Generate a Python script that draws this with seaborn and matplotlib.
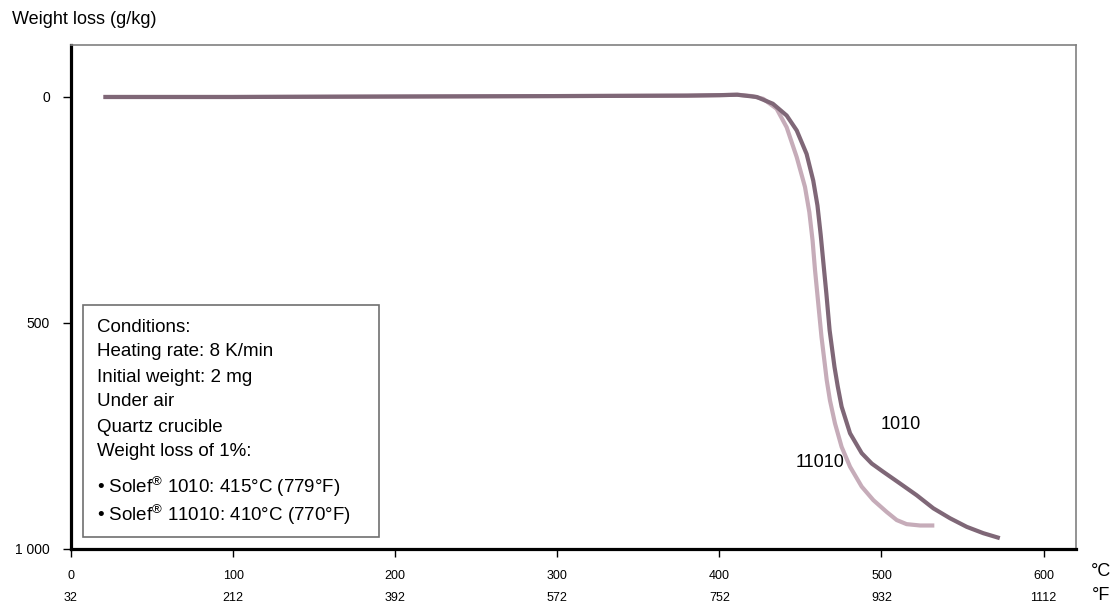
import matplotlib
matplotlib.use('Agg')
import matplotlib.pyplot as plt
import matplotlib.patches as patches
import matplotlib.transforms as mtransforms
import seaborn as sns
import pandas as pd

# Thermogravimetric curves (temperature in °C, weight loss in g/kg)
temp_1010 = [20, 100, 200, 300, 380, 400, 411, 423, 433, 441.5, 447.7, 453.8, 457.9, 460.5,
             462.5, 464, 466, 468, 471, 473, 475.4, 480.6, 487.8, 494, 501, 511.4, 521.7,
             532, 542.3, 552.6, 562.8, 573]
loss_1010 = [0, 0, -1, -2, -3, -4, -5, 0, 15, 41, 74, 126, 185, 240,
             305, 361, 435, 516, 597, 640, 685, 744, 788, 811, 829, 855, 881,
             910, 932, 951, 965, 976]

temp_11010 = [20, 100, 200, 300, 380, 400, 411, 420, 427, 435.3, 441.5, 447.7, 452.8, 455.5,
              457.5, 459, 461, 463, 465, 466.2, 468.2, 471.3, 475.4, 480.6, 487.8, 495,
              503.2, 509.4, 515.5, 523.8, 532.6]
loss_11010 = [0, 0, -1, -2, -3, -4, -5, -2, 4, 26, 67, 133, 199, 255,
              318, 383, 457, 531, 590, 626, 671, 722, 774, 818, 862, 892,
              918, 936, 945, 948, 948]

c_ticks = [0, 100, 200, 300, 400, 500, 600]
f_ticks = [32, 212, 392, 572, 752, 932, 1112]
y_ticks = [0, 500, 1000]
y_labels = ['0', '500', '1 000']

cond_lines = ['Conditions:', 'Heating rate: 8 K/min', 'Initial weight: 2 mg', 'Under air',
              'Quartz crucible', 'Weight loss of 1%:',
              '• Solef$^{\\mathrm{®}}$ 1010: 415°C (779°F)',
              '• Solef$^{\\mathrm{®}}$ 11010: 410°C (770°F)']

sns.set_style('white')
plt.rcParams['font.family'] = ['Liberation Sans', 'DejaVu Sans']
plt.rcParams['mathtext.fontset'] = 'custom'
plt.rcParams['mathtext.rm'] = 'Liberation Sans'
plt.rcParams['text.color'] = 'black'
plt.rcParams['xtick.color'] = 'black'
plt.rcParams['ytick.color'] = 'black'

W, H = 1120, 609
fig = plt.figure(figsize=(W / 100, H / 100), dpi=100)
ax = fig.add_axes([71 / W, 1 - 549 / H, (1076 - 71) / W, (549 - 45) / H])


def fx(px):
    return px / W


def fy(py):
    return 1 - py / H


dark = '#7f6777'
light = '#c6acb9'
df1 = pd.DataFrame({'T': temp_1010, 'loss': loss_1010})
df2 = pd.DataFrame({'T': temp_11010, 'loss': loss_11010})
sns.lineplot(data=df2, x='T', y='loss', color=light, lw=3, ax=ax, estimator=None,
             solid_joinstyle='round', solid_capstyle='butt')
sns.lineplot(data=df1, x='T', y='loss', color=dark, lw=3, ax=ax, estimator=None,
             solid_joinstyle='round', solid_capstyle='butt')

ax.set_xlim(0, 620)
ax.set_ylim(1000, -115)
ax.set_xlabel('')
ax.set_ylabel('')

ax.set_xticks(c_ticks)
ax.set_xticklabels([str(c) for c in c_ticks])
ax.set_yticks(y_ticks)
ax.set_yticklabels(y_labels)
ax.tick_params(axis='both', direction='out', length=6, width=1, color='black',
               bottom=True, left=True)
ax.tick_params(axis='x', labelsize=9, pad=9)
ax.tick_params(axis='y', labelsize=10, pad=9)

for s in ['left', 'bottom']:
    ax.spines[s].set_color('black')
    ax.spines[s].set_linewidth(2.3)
for s in ['top', 'right']:
    ax.spines[s].set_color('#808080')
    ax.spines[s].set_linewidth(1.2)

# °F row under the °C tick labels
trans = mtransforms.blended_transform_factory(ax.transData, fig.transFigure)
for c, f in zip(c_ticks, f_ticks):
    ax.text(c, fy(598), str(f), transform=trans, ha='center', va='center', fontsize=9)

fig.text(fx(1101), fy(571), '°C', ha='center', va='center', fontsize=13)
fig.text(fx(1101), fy(596), '°F', ha='center', va='center', fontsize=13)

fig.text(fx(12), fy(20), 'Weight loss (g/kg)', ha='left', va='center', fontsize=13)

ax.text(512, 724, '1010', ha='center', va='center', fontsize=13)
ax.text(462, 808, '11010', ha='center', va='center', fontsize=13)

# conditions box
box = patches.Rectangle((fx(83), fy(537)), fx(379) - fx(83), fy(305) - fy(537),
                        transform=fig.transFigure, fill=True, facecolor='white',
                        edgecolor='#707070', lw=1.2, zorder=5)
fig.patches.append(box)
line_y = [327, 352, 377, 402, 427, 452, 487, 515]
for txt, yy in zip(cond_lines, line_y):
    fig.text(fx(97), fy(yy), txt, ha='left', va='center', fontsize=13.5, zorder=6)

fig.savefig('out.png', dpi=100)
